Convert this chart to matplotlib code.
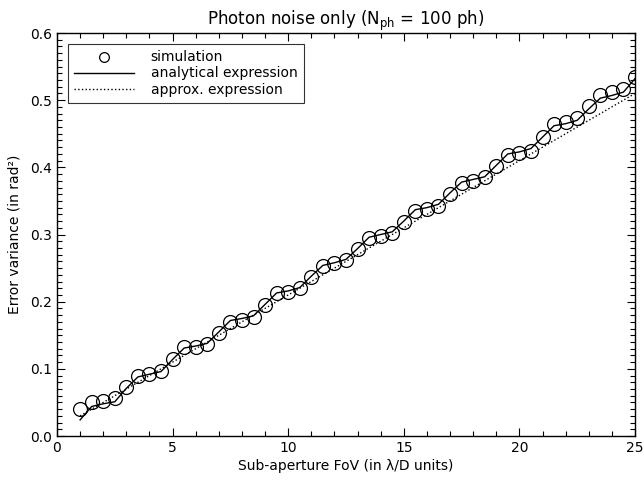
import numpy as np
import matplotlib
matplotlib.use("Agg")
import matplotlib.pyplot as plt
from matplotlib.ticker import MultipleLocator

# sub-aperture FoV (lambda/D units)
fov = np.arange(1.0, 25.01, 0.5)

# simulated error variance (rad^2)
sim = [0.040, 0.050, 0.052, 0.056, 0.073, 0.090, 0.093, 0.097, 0.115, 0.132,
       0.133, 0.137, 0.153, 0.170, 0.173, 0.177, 0.195, 0.213, 0.215, 0.220,
       0.237, 0.253, 0.257, 0.262, 0.278, 0.295, 0.298, 0.302, 0.318, 0.335,
       0.338, 0.343, 0.360, 0.377, 0.380, 0.385, 0.402, 0.418, 0.422, 0.425,
       0.445, 0.465, 0.468, 0.473, 0.492, 0.508, 0.512, 0.517, 0.535]

# analytical expression
analytic = [0.024, 0.044, 0.048, 0.051, 0.071, 0.088, 0.092, 0.096, 0.114, 0.131,
            0.134, 0.138, 0.155, 0.172, 0.175, 0.179, 0.196, 0.213, 0.216, 0.221,
            0.238, 0.254, 0.258, 0.263, 0.279, 0.296, 0.300, 0.304, 0.320, 0.337,
            0.340, 0.345, 0.362, 0.378, 0.382, 0.386, 0.403, 0.420, 0.423, 0.428,
            0.445, 0.462, 0.465, 0.470, 0.487, 0.503, 0.507, 0.512, 0.532]

# approximated expression
approx = [0.030, 0.040, 0.050, 0.060, 0.070, 0.080, 0.090, 0.100, 0.110, 0.120,
          0.130, 0.140, 0.150, 0.160, 0.170, 0.180, 0.190, 0.200, 0.210, 0.220,
          0.230, 0.240, 0.250, 0.260, 0.270, 0.280, 0.290, 0.300, 0.310, 0.320,
          0.330, 0.340, 0.350, 0.360, 0.370, 0.380, 0.390, 0.400, 0.410, 0.420,
          0.430, 0.440, 0.450, 0.460, 0.470, 0.480, 0.490, 0.500, 0.510]

plt.rcParams['font.family'] = ['DejaVu Sans']
plt.rcParams['mathtext.default'] = 'regular'

fig = plt.figure(figsize=(6.44, 4.82), dpi=100)
ax = fig.add_axes([0.0885, 0.0954, 0.8975, 0.8361])

ax.plot(fov, sim, 'o', mfc='none', mec='black', ms=10, mew=0.9, label='simulation')
ax.plot(fov, analytic, '-', color='black', lw=1.0, label='analytical expression')
ax.plot(fov, approx, ':', color='black', lw=1.0, label='approx. expression')

ax.set_xlim(0, 25)
ax.set_ylim(0, 0.6)
ax.xaxis.set_major_locator(MultipleLocator(5))
ax.xaxis.set_minor_locator(MultipleLocator(1))
ax.yaxis.set_major_locator(MultipleLocator(0.1))
ax.yaxis.set_minor_locator(MultipleLocator(0.01))
ax.yaxis.set_major_formatter(plt.FormatStrFormatter('%.1f'))
ax.tick_params(which='both', direction='in', top=True, right=True, labelsize=10)
ax.tick_params(which='major', length=6, width=0.8)
ax.tick_params(which='minor', length=3.5, width=0.8)
for s in ax.spines.values():
    s.set_linewidth(1.0)

ax.set_title('Photon noise only (N$_{ph}$ = 100 ph)', fontsize=12, pad=6)
ax.set_xlabel('Sub-aperture FoV (in λ/D units)', fontsize=10, labelpad=3)
ax.set_ylabel('Error variance (in rad²)', fontsize=10, labelpad=6)

leg = ax.legend(loc='upper left', frameon=True, fancybox=False, edgecolor='black',
                fontsize=10, handlelength=4.3, handletextpad=1.2, borderpad=0.45,
                labelspacing=0.15, borderaxespad=0.8, markerscale=0.7)
leg.get_frame().set_linewidth(0.8)

fig.savefig('out.png', dpi=100)
